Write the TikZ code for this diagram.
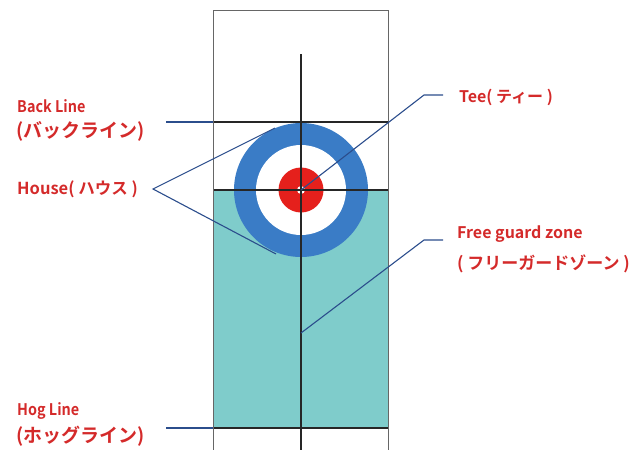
\documentclass[tikz,border=0pt]{standalone}
\usepackage{fontspec}
\newfontfamily\jp{Noto Sans CJK JP}[BoldFont={Noto Sans CJK JP Bold}]
\newfontfamily\jpc{Noto Sans CJK JP}[BoldFont={Noto Sans CJK JP Bold},BoldFeatures={FakeStretch=0.9}]
\definecolor{lbl}{HTML}{D42A2A}
\definecolor{conn}{HTML}{2B4D8C}
\definecolor{ringblue}{HTML}{3A7CC6}
\definecolor{buttonred}{HTML}{E5201C}
\definecolor{zone}{HTML}{7FCCCB}
\begin{document}
\begin{tikzpicture}[x=1pt,y=-1pt,
  lab/.style={anchor=west,inner sep=0pt,text=lbl,font=\jp\bfseries\fontsize{16}{18}\selectfont},
  labc/.style={lab,font=\jpc\bfseries\fontsize{16}{18}\selectfont},
  labbig/.style={lab,font=\jp\bfseries\fontsize{19}{21}\selectfont},
  connector/.style={draw=conn,line width=1.1pt},
  sheetline/.style={draw=black!85,line width=1.2pt}]
\useasboundingbox (0,0) rectangle (638,450);
\clip (0,0) rectangle (638,450);
% free guard zone fill
\fill[zone] (213,190) rectangle (388,428);
% house
\fill[ringblue] (301,190) circle (67);
\fill[white] (301,190) circle (45);
\fill[buttonred] (301,190) circle (22.5);
\fill[white] (301,190) circle (4);
% sheet lines
\draw[sheetline] (213,122) -- (388,122);
\draw[sheetline] (213,190) -- (388,190);
\draw[sheetline] (213,428) -- (388,428);
\draw[sheetline] (301,54) -- (301,452);
\draw[draw=black!60,line width=0.9pt] (213,455) -- (213,10) -- (388,10) -- (388,455);
% labels
\node[labc] (back1) at (17,106) {Back Line};
\node[labbig] (back2) at (16,131) {(バックライン)};
\node[lab,font=\jp\bfseries\fontsize{16.5}{18}\selectfont] (house) at (17,189) {House( ハウス )};
\node[labc] (hog1) at (17,411) {Hog Line};
\node[labbig] (hog2) at (16,436) {(ホッグライン)};
\node[lab] (tee) at (459,97) {Tee( ティー )};
\node[lab] (fgz1) at (457,234) {Free guard zone};
\node[lab,font=\jp\bfseries\fontsize{17}{19}\selectfont] (fgz2) at (457,264) {( フリーガードゾーン )};
% connector points
\coordinate (backA) at (166,122);
\coordinate (backB) at (213,122);
\coordinate (hogA) at (166,428);
\coordinate (hogB) at (213,428);
\coordinate (houseV) at (153,189);
\coordinate (houseT) at (275,128);
\coordinate (houseB) at (276,254);
\coordinate (teeC) at (301,190);
\coordinate (teeK) at (424,95);
\coordinate (teeE) at (443,95);
\coordinate (fgzP) at (301,333);
\coordinate (fgzK) at (424,240);
\coordinate (fgzE) at (443,240);
% connectors
\draw[connector] (backA) -- (backB);
\draw[connector] (hogA) -- (hogB);
\draw[connector] (houseT) -- (houseV) -- (houseB);
\draw[connector] (teeC) -- (teeK) -- (teeE);
\draw[connector] (fgzP) -- (fgzK) -- (fgzE);
\end{tikzpicture}
\end{document}
